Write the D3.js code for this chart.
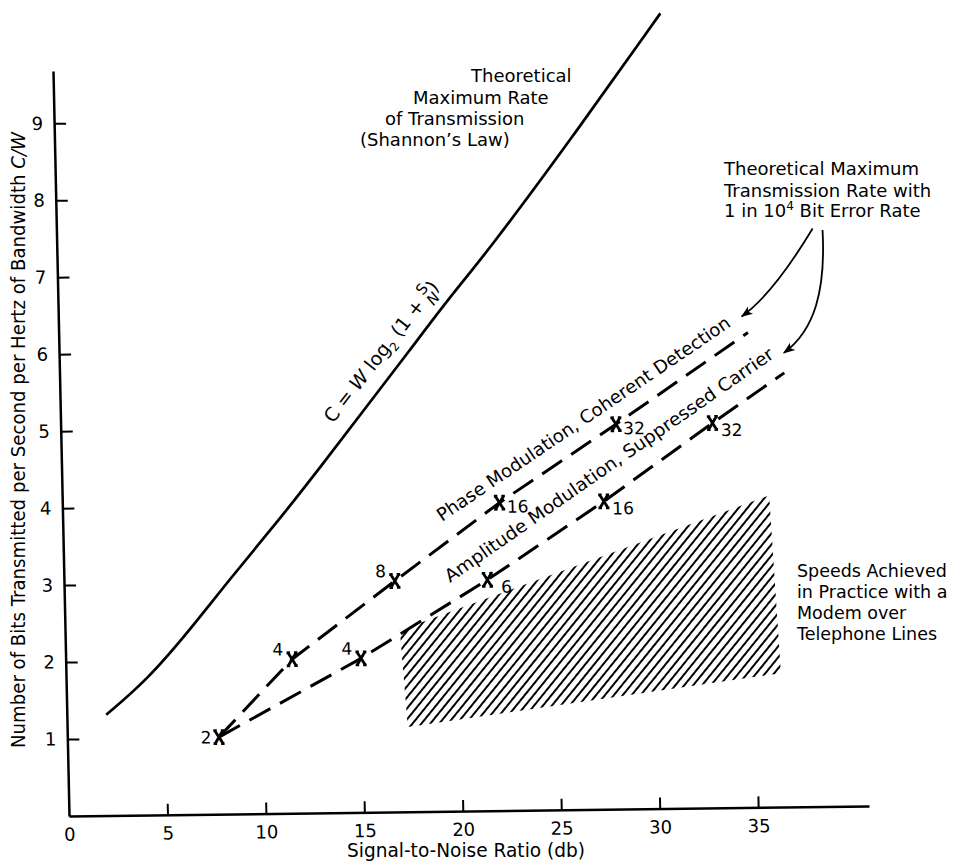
<!DOCTYPE html>
<meta http-equiv="Content-type" content="text/html; charset=UTF-8"/>
<body style="margin:0;background:#fff">
<svg width="969" height="865"></svg>
<script src="https://d3js.org/d3.v7.min.js"></script>
<style>
  svg text { font-family: 'DejaVu Sans'; fill: #000 }
</style>
<script>
// values (S/N in dB, bits per second per Hz)
var xTicks = [0, 5, 10, 15, 20, 25, 30, 35];
var yTicks = [1, 2, 3, 4, 5, 6, 7, 8, 9];

// Shannon's law curve
var shannonSnr  = [2.0, 4.1, 6.35, 8.45, 10.85, 13.3, 15.55, 17.8, 19.9, 21.8, 26.2, 30.9];
var shannonRate = [1.31, 1.75, 2.40, 3.06, 3.77, 4.54, 5.27, 5.99, 6.68, 7.24, 8.70, 10.33];

// phase modulation, coherent detection
var phaseSnr    = [7.7, 11.5, 16.8, 22.2, 28.2, 35.0];
var phaseRate   = [1.0, 2.0, 3.0, 4.0, 5.0, 6.17];
var phaseLevels = ["2", "4", "8", "16", "32", ""];
var phaseMark   = [1, 1, 1, 1, 1, 0];
var phasePlace  = ["l", "ul", "ul", "r", "r", ""];

// amplitude modulation, suppressed carrier
var ampSnr    = [7.7, 15.0, 21.5, 27.5, 33.1, 36.8];
var ampRate   = [1.0, 2.0, 3.0, 4.0, 5.0, 5.64];
var ampLevels = ["", "4", "6", "16", "32", ""];
var ampMark   = [0, 1, 1, 1, 1, 0];
var ampPlace  = ["", "ul", "lr", "lr", "lr", ""];

// speeds achieved in practice (hatched area corners)
var practiceSnr  = [17.0, 35.9, 36.3, 17.3];
var practiceRate = [2.36, 4.05, 1.74, 1.10];

// callout arrows (control points in data units)
var arrowPhase = [[38.4, 7.51], [36.3, 6.66], [34.7, 6.38]];
var arrowAmp   = [[38.9, 7.49], [39.0, 6.71], [38.4, 6.19], [36.8, 5.90]];

var svg = d3.select("svg");

var defs = svg.append("defs");
defs.append("pattern")
    .attr("id", "hatch")
    .attr("patternUnits", "userSpaceOnUse")
    .attr("width", 6.9)
    .attr("height", 20)
    .attr("patternTransform", "rotate(40)")
  .append("line")
    .attr("x1", 1).attr("y1", 0).attr("x2", 1).attr("y2", 20)
    .attr("stroke", "#000").attr("stroke-width", 2);
defs.append("marker")
    .attr("id", "head")
    .attr("viewBox", "0 -5 12 10")
    .attr("refX", 11).attr("refY", 0)
    .attr("markerWidth", 12).attr("markerHeight", 10)
    .attr("markerUnits", "userSpaceOnUse")
    .attr("orient", "auto")
  .append("path")
    .attr("d", "M0,-4.5L12,0L0,4.5L3,0Z")
    .attr("fill", "#000");

// the scanned page is slightly skewed, so the plot frame is too
var g = svg.append("g").attr("transform", "matrix(1,-0.0125,0.0215,1,69,816)");

var x = d3.scaleLinear().domain([0, 40.63]).range([0, 800]);
var y = d3.scaleLinear().domain([0, 9.68]).range([0, -745]);

// hatched area
g.append("path")
    .attr("d", d3.line().x(function(i) { return x(practiceSnr[i]); })
                        .y(function(i) { return y(practiceRate[i]); })(d3.range(practiceSnr.length)) + "Z")
    .attr("fill", "url(#hatch)");

// axes
var xAxis = g.append("g")
    .call(d3.axisBottom(x).tickValues(xTicks).tickSizeInner(-11).tickSizeOuter(0).tickPadding(12));
var yAxis = g.append("g")
    .call(d3.axisLeft(y).tickValues(yTicks).tickSizeInner(-12).tickSizeOuter(0).tickPadding(11));
[xAxis, yAxis].forEach(function(a) {
  a.attr("font-family", "Liberation Sans").attr("font-size", 18);
  a.select(".domain").attr("stroke-width", 2.5);
  a.selectAll(".tick line").attr("stroke-width", 2);
});
xAxis.selectAll(".tick line").filter(function(d) { return d === 0; }).remove();

// Shannon curve
g.append("path")
    .attr("d", d3.line().curve(d3.curveBasis)
        .x(function(i) { return x(shannonSnr[i]); })
        .y(function(i) { return y(shannonRate[i]); })(d3.range(shannonSnr.length)))
    .attr("fill", "none").attr("stroke", "#000").attr("stroke-width", 2.7);

var placeOff = { l: [-13, 0], ul: [-14, -10], r: [18, 4], lr: [19, 7] };

function series(snr, rate, levels, mark, place) {
  var idx = d3.range(snr.length);
  g.append("path")
      .attr("d", d3.line().x(function(i) { return x(snr[i]); })
                          .y(function(i) { return y(rate[i]); })(idx))
      .attr("fill", "none").attr("stroke", "#000")
      .attr("stroke-width", 3).attr("stroke-dasharray", "24,11");
  var m = idx.filter(function(i) { return mark[i]; });
  g.selectAll(null).data(m).enter().append("path")
      .attr("transform", function(i) { return "translate(" + x(snr[i]) + "," + y(rate[i]) + ")"; })
      .attr("d", "M-4,-6.5L4,6.5M4,-6.5L-4,6.5M-5.5,-6.5H-2M2,-6.5H5.5M-5.5,6.5H-2M2,6.5H5.5")
      .attr("stroke", "#000").attr("stroke-width", 2.8).attr("fill", "none");
  g.selectAll(null).data(idx.filter(function(i) { return levels[i]; })).enter().append("text")
      .attr("x", function(i) { return x(snr[i]) + placeOff[place[i]][0]; })
      .attr("y", function(i) { return y(rate[i]) + placeOff[place[i]][1]; })
      .attr("dy", "0.36em")
      .attr("text-anchor", "middle")
      .attr("font-size", 17)
      .text(function(i) { return levels[i]; });
}
series(phaseSnr, phaseRate, phaseLevels, phaseMark, phasePlace);
series(ampSnr, ampRate, ampLevels, ampMark, ampPlace);

// callout arrows
var p1 = d3.path();
p1.moveTo(x(arrowPhase[0][0]), y(arrowPhase[0][1]));
p1.quadraticCurveTo(x(arrowPhase[1][0]), y(arrowPhase[1][1]), x(arrowPhase[2][0]), y(arrowPhase[2][1]));
var p2 = d3.path();
p2.moveTo(x(arrowAmp[0][0]), y(arrowAmp[0][1]));
p2.bezierCurveTo(x(arrowAmp[1][0]), y(arrowAmp[1][1]), x(arrowAmp[2][0]), y(arrowAmp[2][1]), x(arrowAmp[3][0]), y(arrowAmp[3][1]));
[p1, p2].forEach(function(p) {
  g.append("path").attr("d", p.toString())
      .attr("fill", "none").attr("stroke", "#000").attr("stroke-width", 1.8)
      .attr("marker-end", "url(#head)");
});

// axis titles
svg.append("text")
    .attr("x", 347).attr("y", 857)
    .attr("font-family", "Liberation Sans").attr("font-size", 20)
    .attr("textLength", 238).attr("lengthAdjust", "spacingAndGlyphs")
    .text("Signal-to-Noise Ratio (db)");
var yl = svg.append("text")
    .attr("transform", "translate(25,440) rotate(-90)")
    .attr("text-anchor", "middle")
    .attr("font-family", "Liberation Sans").attr("font-size", 19)
    .attr("textLength", 616).attr("lengthAdjust", "spacingAndGlyphs");
yl.append("tspan").text("Number of Bits Transmitted per Second per Hertz of Bandwidth ");
yl.append("tspan").attr("font-style", "italic").text("C/W");

// annotations
function block(lines, xs, ys, size) {
  lines.forEach(function(t, i) {
    svg.append("text").attr("x", xs[i]).attr("y", ys[i]).attr("font-size", size).text(t);
  });
}
block(["Theoretical", "Maximum Rate", "of Transmission", "(Shannon\u2019s Law)"],
      [471, 413, 385, 360], [82, 103.5, 125, 146], 18);
block(["Theoretical Maximum", "Transmission Rate with"], [724, 724], [175, 196.5], 18);
var e3 = svg.append("text").attr("x", 724).attr("y", 217).attr("font-size", 18);
e3.append("tspan").text("1 in 10");
e3.append("tspan").attr("dy", -7).attr("font-size", 12).text("4");
e3.append("tspan").attr("dy", 7).text(" Bit Error Rate");
block(["Speeds Achieved", "in Practice with a", "Modem over", "Telephone Lines"],
      [797, 797, 797, 797], [577, 598, 619, 640], 17.5);

svg.append("text")
    .attr("transform", "translate(442,522) rotate(-34.1)")
    .attr("font-size", 18).attr("textLength", 350).attr("lengthAdjust", "spacingAndGlyphs")
    .text("Phase Modulation, Coherent Detection");
svg.append("text")
    .attr("transform", "translate(450,583) rotate(-34.8)")
    .attr("font-size", 18).attr("textLength", 396).attr("lengthAdjust", "spacingAndGlyphs")
    .text("Amplitude Modulation, Suppressed Carrier");

var f = svg.append("text")
    .attr("transform", "translate(333,424) rotate(-52)")
    .attr("font-size", 19);
f.append("tspan").text("C = ");
f.append("tspan").attr("font-style", "italic").text("W");
f.append("tspan").text(" log");
f.append("tspan").attr("dy", 5).attr("font-size", 12).text("2");
f.append("tspan").attr("dy", -5).text(" (1 + ");
f.append("tspan").attr("dy", -8).attr("font-size", 15).text("S");
f.append("tspan").attr("dx", -11).attr("dy", 15).attr("font-size", 15).attr("font-style", "italic").text("N");
f.append("tspan").attr("dy", -7).text(")");
</script>
